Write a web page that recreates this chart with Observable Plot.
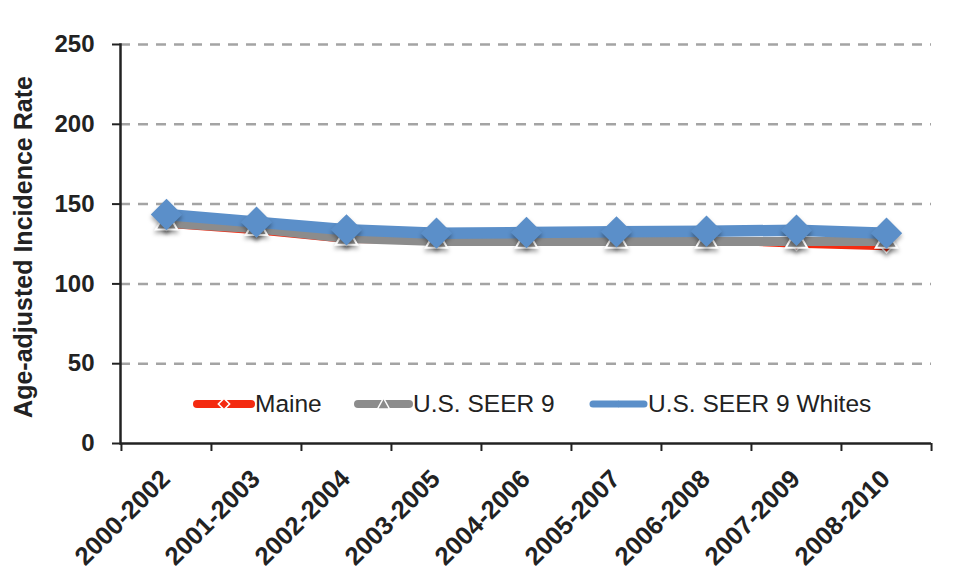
<!DOCTYPE html>
<html>
<head>
<meta charset="utf-8">
<script src="https://cdn.jsdelivr.net/npm/d3@7"></script>
<script src="https://cdn.jsdelivr.net/npm/@observablehq/plot@0.6"></script>
<style>
  html, body { margin: 0; padding: 0; background: #fff; }
  #wrap { position: relative; width: 967px; height: 575px; font-family: "Liberation Sans", Arial, sans-serif; }
  .leg { position: absolute; top: 391px; height: 26px; display: flex; align-items: center; font-size: 24.5px; color: #222; white-space: nowrap; }
  .leg svg { display: block; }
</style>
</head>
<body>
<div id="wrap"></div>
<script>
const categories = ["2000-2002","2001-2003","2002-2004","2003-2005","2004-2006","2005-2007","2006-2008","2007-2009","2008-2010"];
const maine = [137, 133, 127.5, 127, 127, 127, 127, 124.5, 123];
const seer9 = [138, 134.5, 128.5, 126.5, 126.5, 126.5, 126.5, 126.5, 126.5];
const seer9Whites = [143.5, 138.7, 133.9, 131.8, 132.2, 132.6, 133, 133.6, 131.8];
const yTicks = [0, 50, 100, 150, 200, 250];
const seriesNames = ["Maine", "U.S. SEER 9", "U.S. SEER 9 Whites"];
const seriesColors = ["#f42a10", "#8c8c8c", "#5b8fc9"];
const yLabel = "Age-adjusted Incidence Rate";

const rows = (name, vals) => categories.map((c, i) => ({period: c, series: name, rate: vals[i]}));
const dMaine = rows(seriesNames[0], maine);
const dSeer = rows(seriesNames[1], seer9);
const dWhites = rows(seriesNames[2], seer9Whites);

const W = 967, H = 575, mL = 120, mR = 36, mT = 44, mB = 132;
const step = (W - mL - mR) / categories.length;
const font = "Liberation Sans, Arial, sans-serif";

const chart = Plot.plot({
  width: W, height: H,
  marginLeft: mL, marginRight: mR, marginTop: mT, marginBottom: mB,
  style: {fontFamily: font, color: "#222", background: "#fff", overflow: "visible"},
  x: {type: "point", domain: categories, padding: 0.5, align: 0.5, axis: null},
  y: {domain: [0, 250], axis: null},
  marks: [
    Plot.ruleY(yTicks.filter(d => d > 0), {stroke: "#a4a4a4", strokeWidth: 2.5, strokeDasharray: "10,8"}),
    // Maine
    Plot.line(dMaine, {x: "period", y: "rate", stroke: seriesColors[0], strokeWidth: 6}),
    Plot.dot(dMaine, {x: "period", y: "rate", symbol: "square", rotate: 45, r: 4.5, fill: seriesColors[0], stroke: "#fff", strokeWidth: 1.5}),
    // SEER 9
    Plot.line(dSeer, {x: "period", y: "rate", stroke: seriesColors[1], strokeWidth: 9}),
    Plot.dot(dSeer, {x: "period", y: "rate", symbol: "triangle", r: 8, fill: seriesColors[1], stroke: "#fff", strokeWidth: 2}),
    // Whites
    Plot.line(dWhites, {x: "period", y: "rate", stroke: seriesColors[2], strokeWidth: 11.5}),
    Plot.dot(dWhites, {x: "period", y: "rate", symbol: "square", rotate: 45, r: 12.5, fill: seriesColors[2], stroke: "none"}),
    // axes
    Plot.axisY({ticks: yTicks, tickSize: 8, tickPadding: 18, fontSize: 24, fontWeight: "bold", stroke: "#222", strokeWidth: 2, label: null, tickFormat: d => String(d)}),
    Plot.ruleY([0], {stroke: "#222", strokeWidth: 2.5}),
    Plot.frame({anchor: "left", stroke: "#222", strokeWidth: 2.5}),
    Plot.ruleX(categories, {x: d => d, y1: 0, y2: -5, dx: -step / 2, stroke: "#222", strokeWidth: 2}),
    Plot.ruleX(categories.slice(-1), {x: d => d, y1: 0, y2: -5, dx: step / 2, stroke: "#222", strokeWidth: 2}),
    Plot.text(categories, {x: d => d, y: 0, text: d => d, rotate: -45, textAnchor: "end", lineAnchor: "bottom", dx: 5, dy: 37, fontSize: 25.5, fontWeight: "bold", fill: "#222"}),
    Plot.text([yLabel], {frameAnchor: "left", text: d => d, rotate: -90, textAnchor: "middle", dx: -97, dy: 3, fontSize: 25, fontWeight: "bold", fill: "#222"})
  ]
});

const wrap = document.getElementById("wrap");
wrap.appendChild(chart);

// soft shadows under markers, like the original spreadsheet chart
chart.querySelectorAll('g[aria-label="dot"]').forEach(g => {
  g.style.filter = "drop-shadow(0px 3px 2px rgba(0,0,0,0.35))";
});

// legend (inside plot area)
const legendLefts = [193, 354, 589];
const swatchW = [62, 59, 59];
seriesNames.forEach((name, i) => {
  const div = document.createElement("div");
  div.className = "leg";
  div.style.left = legendLefts[i] + "px";
  const w = swatchW[i];
  const c = seriesColors[i];
  let marker = "";
  if (i === 0) marker = `<rect x="${w/2-4}" y="7" width="8" height="8" transform="rotate(45 ${w/2} 11)" fill="${c}" stroke="#fff" stroke-width="1.5"/>`;
  if (i === 1) marker = `<path d="M${w/2} 5 L${w/2+6} 16 L${w/2-6} 16 Z" fill="${c}" stroke="#fff" stroke-width="1.5"/>`;
  if (i === 2) marker = `<rect x="${w/2-2.5}" y="8.5" width="5" height="5" transform="rotate(45 ${w/2} 11)" fill="${c}"/>`;
  div.innerHTML = `<svg width="${w}" height="22"><line x1="4" x2="${w-4}" y1="11" y2="11" stroke="${c}" stroke-width="${i === 2 ? 7 : 8}" stroke-linecap="round"/>${marker}</svg><span>${name}</span>`;
  wrap.appendChild(div);
});
</script>
</body>
</html>
